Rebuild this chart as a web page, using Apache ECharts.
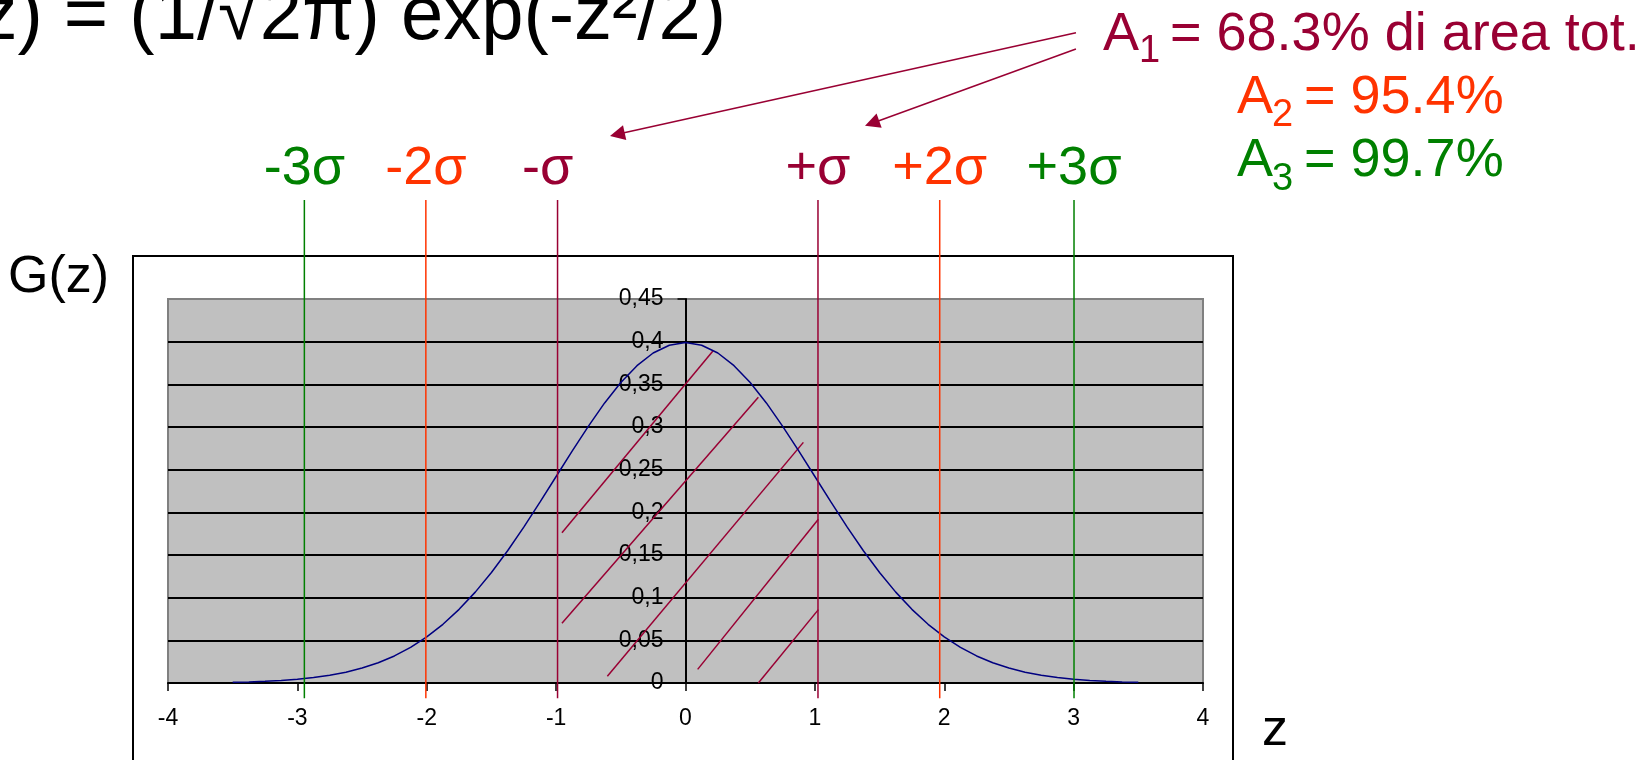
<!DOCTYPE html>
<html><head><meta charset="utf-8">
<script src="https://cdn.jsdelivr.net/npm/echarts@6/dist/echarts.min.js"></script>
<style>html,body{margin:0;padding:0;background:#fff;}#c{width:1641px;height:760px;}</style>
</head><body><div id="c"></div>
<script>
// ---- data ----
const zValues = [-3.5,-3.375,-3.25,-3.125,-3,-2.875,-2.75,-2.625,-2.5,-2.375,-2.25,-2.125,-2,-1.875,-1.75,-1.625,-1.5,-1.375,-1.25,-1.125,-1,-0.875,-0.75,-0.625,-0.5,-0.375,-0.25,-0.125,0,
  0.125,0.25,0.375,0.5,0.625,0.75,0.875,1,1.125,1.25,1.375,1.5,1.625,1.75,1.875,2,2.125,2.25,2.375,2.5,2.625,2.75,2.875,3,3.125,3.25,3.375,3.5];
const gValues = [0.0009,0.0013,0.0020,0.0030,0.0044,0.0064,0.0091,0.0127,0.0175,0.0238,0.0317,0.0417,0.0540,0.0688,0.0863,0.1065,0.1295,0.1550,0.1826,0.2119,0.2420,0.2721,0.3011,0.3282,0.3521,0.3719,0.3867,0.3958,0.3989,
  0.3958,0.3867,0.3719,0.3521,0.3282,0.3011,0.2721,0.2420,0.2119,0.1826,0.1550,0.1295,0.1065,0.0863,0.0688,0.0540,0.0417,0.0317,0.0238,0.0175,0.0127,0.0091,0.0064,0.0044,0.0030,0.0020,0.0013,0.0009];
const xTickLabels = ['-4','-3','-2','-1','0','1','2','3','4'];
const yTickLabels = ['0','0,05','0,1','0,15','0,2','0,25','0,3','0,35','0,4','0,45'];
const sigmaX = [-2.946,-2.007,-0.989,1.024,1.965,3.003];
const sigmaLabels = ['-3σ','-2σ','-σ','+σ','+2σ','+3σ'];
const sigmaSpan = [-0.018, 0.566];
const hatchFrom = [[-0.955,0.176],[-0.955,0.070],[-0.604,0.008],[0.094,0.016],[0.563,0.0]];
const hatchTo   = [[0.212,0.389],[0.563,0.335],[0.911,0.282],[1.027,0.192],[1.027,0.086]];
const arrowFrom = [[3.018,0.762],[3.018,0.743]];
const arrowTo   = [[-0.527,0.643],[1.442,0.656]];

// ---- layout & styles ----
const GRID = {left: 168, right: 438, top: 299, height: 384};
const GRID_W = 1641 - GRID.left - GRID.right;
const X_MIN = -4, X_MAX = 4;
const Y_AXIS_OFFSET = -(0 - X_MIN) / (X_MAX - X_MIN) * GRID_W; // put the y axis (with its labels) at z = 0

const CRIMSON = '#990033', ORANGE = '#FF3300', GREEN = '#008000', NAVY = '#000080';
const sigmaColors = [GREEN, ORANGE, CRIMSON, CRIMSON, ORANGE, GREEN];
const sigmaLabelOffset = [[0,0],[0,0],[-10,0],[0,0],[0,0],[0,0]];
const FONT = '"Liberation Sans", Arial, sans-serif';

const chart = echarts.init(document.getElementById('c'), null, {renderer: 'canvas'});

const sigmaSeries = sigmaX.map((x, i) => ({
  type: 'line', silent: true, clip: false, z: 6,
  symbol: 'circle', symbolSize: 0, showSymbol: true,
  lineStyle: {color: sigmaColors[i], width: 1.5},
  itemStyle: {color: sigmaColors[i]},
  data: [
    [x, sigmaSpan[0]],
    {value: [x, sigmaSpan[1]], label: {
      show: true, position: 'top', distance: 4, offset: sigmaLabelOffset[i],
      formatter: sigmaLabels[i], color: sigmaColors[i],
      fontSize: 54, lineHeight: 54, fontFamily: FONT
    }}
  ]
}));

function txt(text, x, y, size, color, align) {
  return {type: 'text', x: x, y: y, z: 10, silent: true,
    style: {text: text, fill: color, font: size + 'px ' + FONT, align: align || 'left', verticalAlign: 'middle'}};
}

const option = {
  animation: false,
  backgroundColor: '#ffffff',
  grid: {left: GRID.left, right: GRID.right, top: GRID.top, height: GRID.height, show: true,
    backgroundColor: '#C0C0C0', borderColor: '#808080', borderWidth: 2},
  xAxis: {
    type: 'value', min: X_MIN, max: X_MAX, interval: 1,
    axisLine: {show: true, onZero: true, lineStyle: {color: '#000', width: 2}},
    axisTick: {show: true, length: 8, lineStyle: {color: '#000', width: 1.5}},
    axisLabel: {show: true, margin: 24, color: '#000', fontSize: 23, fontFamily: FONT,
      formatter: (v, i) => xTickLabels[i]},
    splitLine: {show: false}
  },
  yAxis: {
    type: 'value', min: 0, max: 0.45, interval: 0.05, position: 'left', offset: Y_AXIS_OFFSET,
    axisLine: {show: true, onZero: false, lineStyle: {color: '#000', width: 2}},
    axisTick: {show: true, length: 8, lineStyle: {color: '#000', width: 1.5}},
    axisLabel: {show: true, margin: 22, color: '#000', fontSize: 23, fontFamily: FONT,
      formatter: (v, i) => yTickLabels[i]},
    splitLine: {show: true, showMaxLine: false, lineStyle: {color: '#000', width: 2}}
  },
  series: [
    {type: 'line', silent: true, z: 5, symbol: 'none', smooth: false,
      lineStyle: {color: NAVY, width: 1.5},
      data: zValues.map((z, i) => [z, gValues[i]])},
    {type: 'lines', coordinateSystem: 'cartesian2d', silent: true, clip: false, z: 4,
      symbol: ['none', 'none'],
      lineStyle: {color: CRIMSON, width: 1.5, opacity: 1, curveness: 0},
      data: hatchFrom.map((p, i) => ({coords: [p, hatchTo[i]]}))},
    ...sigmaSeries,
    {type: 'lines', coordinateSystem: 'cartesian2d', silent: true, clip: false, z: 7,
      symbol: ['none', 'triangle'], symbolSize: 15,
      itemStyle: {color: CRIMSON},
      lineStyle: {color: CRIMSON, width: 1.5, opacity: 1, curveness: 0},
      data: arrowFrom.map((p, i) => ({coords: [p, arrowTo[i]]}))}
  ],
  graphic: [
    {type: 'rect', z: 1, silent: true, shape: {x: 133, y: 256, width: 1100, height: 560},
      style: {fill: 'none', stroke: '#000', lineWidth: 2}},
    txt('G(z) = (1/√2π) exp(-z²/2)', -105, 18.5, 76, '#000'),
    txt('G(z)', 8, 278, 52, '#000'),
    txt('z', 1275, 731, 52, '#000', 'center'),
    txt('A', 1103, 35, 54, CRIMSON),
    txt('1', 1139, 51.5, 38, CRIMSON),
    txt('= 68.3% di area tot.', 1170, 35, 54, CRIMSON),
    txt('A', 1237, 98.3, 54, ORANGE),
    txt('2', 1272, 115.5, 38, ORANGE),
    txt('= 95.4%', 1304, 98.3, 54, ORANGE),
    txt('A', 1237, 161.6, 54, GREEN),
    txt('3', 1272, 180, 38, GREEN),
    txt('= 99.7%', 1304, 161.6, 54, GREEN)
  ]
};
chart.setOption(option);
</script></body></html>
